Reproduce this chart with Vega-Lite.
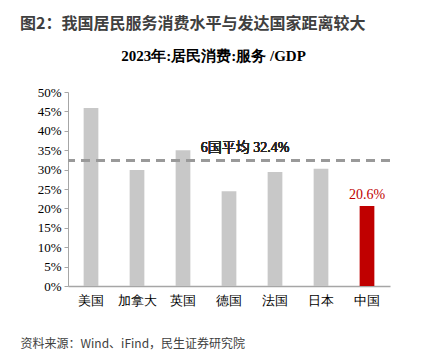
{
  "$schema": "https://vega.github.io/schema/vega-lite/v6.json",
  "autosize": "none",
  "width": 322,
  "height": 194,
  "padding": {"left": 68, "top": 92, "right": 34, "bottom": 74},
  "background": "white",
  "config": {
    "view": {"stroke": null},
    "axisY": {
      "grid": false,
      "labelOverlap": false,
      "labelFlush": false,
      "labelFont": "Liberation Serif",
      "labelFontSize": 13,
      "labelColor": "#000000",
      "labelPadding": 3,
      "tickSize": 4,
      "tickColor": "#a6a6a6",
      "domainColor": "#a6a6a6",
      "titleFont": "Liberation Serif",
      "titleFontWeight": "bold",
      "titleFontSize": 15,
      "titleColor": "#000000",
      "titleAngle": 0,
      "titleAlign": "center",
      "titleBaseline": "alphabetic",
      "titleX": 145,
      "titleY": -32
    },
    "axisX": {
      "labelAngle": 0,
      "labelFont": "Liberation Serif",
      "labelFontSize": 13,
      "labelColor": "#000000",
      "labelPadding": 8,
      "ticks": false,
      "domainColor": "#a6a6a6",
      "domainWidth": 1.5,
      "titleFont": "Noto Sans CJK SC",
      "titleFontWeight": "normal",
      "titleFontSize": 12,
      "titleColor": "#404040",
      "titleAnchor": "start",
      "titleAlign": "left",
      "titleBaseline": "alphabetic",
      "titleX": -48,
      "titleY": 61
    }
  },
  "title": {
    "text": "图2：我国居民服务消费水平与发达国家距离较大",
    "font": "Noto Sans CJK SC",
    "fontWeight": "bold",
    "fontSize": 16,
    "color": "#404040",
    "anchor": "start",
    "frame": "bounds",
    "offset": 16,
    "dx": 0
  },
  "data": {
    "values": [
      {"country": "美国", "value": 0.459, "group": "other"},
      {"country": "加拿大", "value": 0.299, "group": "other"},
      {"country": "英国", "value": 0.350, "group": "other"},
      {"country": "德国", "value": 0.244, "group": "other"},
      {"country": "法国", "value": 0.294, "group": "other"},
      {"country": "日本", "value": 0.302, "group": "other"},
      {"country": "中国", "value": 0.206, "group": "china"}
    ]
  },
  "layer": [
    {
      "mark": {"type": "bar"},
      "encoding": {
        "x": {
          "field": "country",
          "type": "nominal",
          "sort": null,
          "scale": {"paddingInner": 0.68, "paddingOuter": 0.34},
          "axis": {"title": "资料来源：Wind、iFind，民生证券研究院"}
        },
        "y": {
          "field": "value",
          "type": "quantitative",
          "scale": {"domain": [0, 0.5]},
          "axis": {"values": [0, 0.05, 0.1, 0.15, 0.2, 0.25, 0.3, 0.35, 0.4, 0.45, 0.5], "format": ".0%", "title": "2023年:居民消费:服务 /GDP"}
        },
        "color": {
          "field": "group",
          "type": "nominal",
          "scale": {"domain": ["other", "china"], "range": ["#c8c8c8", "#c00000"]},
          "legend": null
        }
      }
    },
    {
      "transform": [{"filter": "datum.group === 'china'"}],
      "mark": {"type": "text", "baseline": "bottom", "dy": -4, "font": "Liberation Serif", "fontSize": 14, "fontWeight": "normal", "color": "#c00000"},
      "encoding": {
        "x": {"field": "country", "type": "nominal", "sort": null, "axis": {"title": "资料来源：Wind、iFind，民生证券研究院"}},
        "y": {"field": "value", "type": "quantitative", "axis": {"values": [0, 0.05, 0.1, 0.15, 0.2, 0.25, 0.3, 0.35, 0.4, 0.45, 0.5], "format": ".0%", "title": "2023年:居民消费:服务 /GDP"}},
        "text": {"field": "value", "type": "quantitative", "format": ".1%"}
      }
    },
    {
      "mark": {"type": "rule", "color": "#999999", "strokeWidth": 2.5, "strokeDash": [9, 6]},
      "encoding": {"y": {"datum": 0.324, "type": "quantitative", "axis": {"values": [0, 0.05, 0.1, 0.15, 0.2, 0.25, 0.3, 0.35, 0.4, 0.45, 0.5], "format": ".0%", "title": "2023年:居民消费:服务 /GDP"}}}
    },
    {
      "mark": {"type": "text", "baseline": "bottom", "dy": -5, "dx": 16, "font": "Liberation Serif, Noto Sans CJK SC", "fontSize": 14, "fontWeight": "normal", "color": "#262626"},
      "encoding": {
        "x": {"datum": "德国", "type": "nominal", "axis": {"title": "资料来源：Wind、iFind，民生证券研究院"}},
        "y": {"datum": 0.324, "type": "quantitative", "axis": {"values": [0, 0.05, 0.1, 0.15, 0.2, 0.25, 0.3, 0.35, 0.4, 0.45, 0.5], "format": ".0%", "title": "2023年:居民消费:服务 /GDP"}},
        "text": {"value": "6国平均 32.4%"}
      }
    }
  ]
}
